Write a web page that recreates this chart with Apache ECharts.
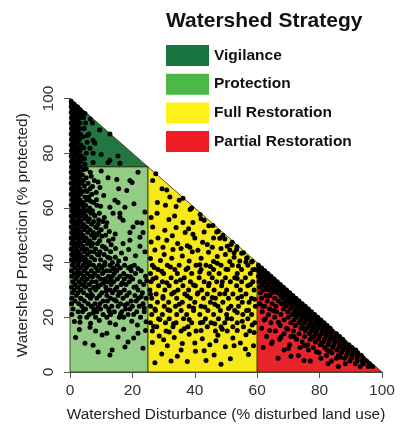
<!DOCTYPE html>
<html><head><meta charset="utf-8">
<script src="https://cdn.jsdelivr.net/npm/echarts@6/dist/echarts.min.js"></script>
<style>html,body{margin:0;padding:0;background:#fff}#c{width:400px;height:428px}</style>
</head><body><div id="c"></div>
<script>
// ---- Category names & region colours ----
const strategies = ['Vigilance','Protection','Full Restoration','Partial Restoration'];
const xTicks = [0,20,40,60,80,100];
const yTicks = [0,20,40,60,80,100];

// Region boundaries (data units)
const vigilancePoly = [[0,75],[0,100],[25,75]];
const protectionPoly = [[0,0],[0,75],[25,75],[25,0]];
const fullPoly = [[25,0],[25,75],[60,40],[60,0]];
const partialPoly = [[60,0],[60,40],[100,0]];

// Watersheds: rows of [protection y, [disturbance x values]]
const vigilanceRows = [
 [99,[0.4]],[98,[0.5,1.3]],[97,[0.4,1.5,2.4]],[96,[0.8,2.0,3.2]],[95,[0.4,1.6,2.8,3.9]],
 [94,[0.9,2.2,3.4]],[93,[0.5,1.7,3.0,4.3]],[92,[1.1,2.5]],[91,[0.4,1.8,3.2,5.0]],[90,[0.9,2.4]],
 [89,[0.5,1.6,3.1,4.5]],[88,[1.0,2.3]],[87,[0.4,1.7,3.3]],[86,[0.9,2.6,4.2]],[85,[0.5,1.8,3.0]],
 [84,[1.1,2.4,5.5]],[83,[0.4,1.7,3.5]],[82,[0.9,2.6,4.4]],[81,[0.5,1.8,3.2]],[80,[1.2,2.6,5.2]],
 [79,[0.4,1.9,3.6]],[78,[1.0,2.8,4.6]],[77,[0.5,1.9,3.4]],[76,[1.2,2.7,4.8]]
];
const vigilanceScatter = [[4.8,94.5],[7.2,91],[4.5,89],[6,87],[12.8,87],[7.4,84.7],[8,83.6],[6.4,81.8],[7.4,80],[12.8,77.4],[12.2,76.6],[16,76.3],[7.4,76.6],[15.4,79],[9.5,88.5],[5.6,86.5],[10,79.5],[6.5,92.5]];

const protectionRows = [
 [75,[0.5,1.9,3.3]],[74,[1.1,2.6,4.4]],[73,[0.4,1.8,3.2,6.5]],[72,[1.0,2.5,4.0]],[71,[0.5,1.7,3.1,5.2]],
 [70,[1.2,2.6,4.3,7.8]],[69,[0.4,1.9,3.5,5.8]],[68,[1.0,2.7,4.6]],[67,[0.5,1.8,3.2,6.4]],[66,[1.1,2.6,4.1,5.5]],
 [65,[0.4,1.9,3.4,7.0]],[64,[1.0,2.5,4.8,6.0]],[63,[0.6,1.8,3.2,5.4]],[62,[1.2,2.7,4.2,7.5]],[61,[0.4,1.9,3.6,5.0,8.6]],
 [60,[1.0,2.5,4.4,6.3]],[59,[0.6,1.8,3.2,5.6,7.2]],[58,[1.2,2.7,4.1,6.7,9.4]],[57,[0.4,2.0,3.5,5.1,8.0]],[56,[1.0,2.8,4.6,6.2]],
 [55,[0.6,1.9,3.4,5.8,7.6,10.5]],[54,[1.3,2.6,4.3,6.9,9.0]],[53,[0.4,2.0,3.7,5.3,8.2]],[52,[1.1,2.7,4.6,6.4,10.0]],
 [51,[0.6,1.8,3.4,5.7,7.5,9.2]],[50,[1.3,2.6,4.2,6.9,8.6,11.4]],[49,[0.4,2.0,3.6,5.2,7.8]],[48,[1.0,2.8,4.6,6.3,9.5,12.4]],
 [47,[0.6,1.9,3.4,5.6,7.2,8.8]],[46,[1.3,2.6,4.2,6.8,10.4]],[45,[0.4,2.0,3.8,5.3,8.2,11.6]],[44,[1.1,2.7,4.6,6.4,7.6,9.6,13.0]],
 [43,[0.6,1.9,3.3,5.6,8.8,10.9]],[42,[1.4,2.8,4.4,6.9,12.1,14.5]],[41,[0.5,2.1,3.7,5.2,7.9,9.8]],[40,[1.1,2.7,4.8,6.3,11.2,13.6]],
 [39,[0.8,2.5,4.2,6.0,7.5,9.4,11.0,12.8,15.2,17.5,20.6]],[38,[1.6,3.4,5.2,8.3,10.2,13.9,16.1,18.8]],
 [37,[0.5,2.6,4.6,6.8,9.0,11.7,12.9,15.0,19.6,22.8]],[36,[1.4,3.5,5.6,7.8,10.4,14.2,17.2,21.0]],
 [35,[0.6,2.4,4.4,6.5,8.9,12.3,13.6,16.0,18.4,24.2]],[34,[1.8,3.8,5.5,9.8,11.2,15.2,17.4,20.1]],
 [33,[0.9,2.9,4.8,7.0,8.4,12.0,14.0,19.0,22.4]],[32,[1.6,3.6,6.2,10.0,13.2,16.4,18.0,23.6]],
 [31,[0.5,2.4,5.0,7.6,9.0,11.5,15.0,20.5]],[30,[1.3,3.5,6.4,8.2,12.8,14.4,17.4,21.8]],
 [29,[0.8,2.6,4.4,10.2,13.6,16.2,19.0,23.2]],[28,[2.0,5.6,7.2,9.5,11.8,15.4,18.2,20.8]],
 [27,[0.6,3.4,6.6,8.6,13.0,17.0,22.0,24.4]],[26,[1.6,4.6,10.6,12.0,14.8,19.6,21.2]],
 [25,[0.5,2.8,5.8,8.0,9.6,16.2,18.4,23.4]],[24,[3.8,6.8,11.4,13.4,15.4,20.0,22.2]],
 [23,[1.0,5.0,7.6,9.8,12.4,17.8,19.2]],[22,[2.6,4.0,8.6,14.2,16.6,21.4,23.8]],
 [21,[0.6,6.2,10.6,13.0,18.6,20.4]],[20,[3.2,5.4,8.2,11.8,15.8,17.2,22.6]]
];
const protectionScatter = [[12.2,71],[15,70.4],[21.8,73],[19.2,70],[9.6,67.5],[14.4,62.8],[12.8,60.2],[16,58],[17,55.5],[20.2,53],[23.4,51],[22.4,49.3],[19.2,48.2],[23,54.5],[15.4,62],[17.6,60.2],[21.5,54.7],[19.2,51],[22.4,46],[17,47],[16,56.6],[13.8,58],[18.2,66.4],[19.9,69.3],[10.8,64.5],[11.5,53.2],[14.5,50.5],[13.2,46.5],[16.5,43.5],[18.8,44.8],[21,42.5],[24,44],[10,73.5],[8.5,63],[11,56.5],[9,69.5],[20.5,61.5],[24,58.5],[15.6,67],
 [1.4,18.5],[3.2,18.2],[6.6,17.8],[9.4,18.8],[12.8,18],[14.6,17.4],[19.8,18.6],[21.6,17.2],[24.4,18.4],[6.4,16.4],[10.3,13.5],[11.8,14.2],[15.4,12.8],[17.2,15.6],[21.8,14.2],[8.2,15],[3,15.5],[18.6,11],[4.8,10.5],[7.4,9.8],[9,7.3],[13.5,8],[12.8,6.2],[17.6,9.1],[23.4,8.7],[20.4,12.4],[1.8,12.6],[24.2,15.2],
 [5.2,74.2],[6.8,71.6],[3.8,69.6],[7.2,67.8],[5.0,66.4],[8.4,65.6],[6.6,62.4],[9.8,60.6],[4.6,58.6],[7.8,57.4],[9.2,55.6],[11.8,54.6],[8.6,52.8],[12.6,51.4],[10.2,49.6],[13.8,48.6],[7.0,46.4],[11.0,45.6],[14.6,45.2],[9.2,42.8],[12.8,41.6],[15.6,40.6],[17.8,41.4],[19.6,38.6],[14.6,37.2],[10.6,36.4],[7.2,34.8],[13.0,33.6],[16.8,32.6],[21.2,31.2],[11.6,29.6],[6.8,28.4],[14.2,26.4],[3.6,26.8],[17.6,24.4],[9.0,23.6],[22.8,27.6],[19.4,34.8],[2.2,36.2],[4.4,31.6],[8.8,31.4],[15.8,29.2],[24.6,33.4],[21.8,37.8],[7.4,21.6],[16.2,21.2],[12.6,22.2],[4.4,22.8],[23.8,23.4],[10.8,32.6]];

const fullRows = [
 [39,[26.4,31.2,35.0,40.4,43.6,48.4,52.0,57.0]],[37.5,[28.2,33.6,37.2,42.0,46.0,50.6,55.0,59.2]],
 [36,[25.8,30.0,34.4,39.0,44.6,47.8,53.6,57.8]],[34.5,[27.6,32.4,36.6,41.4,45.6,49.8,52.8,56.2]],
 [33,[26.0,29.6,34.0,38.6,43.0,47.0,51.4,55.0,58.6]],[31.5,[28.4,31.8,36.2,40.2,44.4,48.6,53.4,57.0]],
 [30,[25.6,30.4,34.6,38.0,42.2,46.2,50.2,54.6,59.0]],[28.5,[27.6,32.6,36.8,40.8,44.0,48.0,52.2,56.4]],
 [27,[26.2,29.8,34.2,38.6,42.8,46.6,50.8,53.8,58.2]],[25.5,[28.0,31.6,36.0,40.0,45.0,49.0,55.2,57.4]],
 [24,[25.8,30.2,33.8,38.2,42.0,47.4,51.6,54.0,59.4]],[22.5,[27.4,32.0,35.6,39.6,44.2,48.2,52.8,56.6]],
 [21,[26.2,29.6,34.2,37.4,41.6,46.0,50.2,55.4,58.2]],[19.5,[28.4,31.8,36.4,43.4,47.6,51.8,57.0]],
 [18,[25.8,30.6,34.0,39.0,41.8,45.2,49.6,53.6,59.2]],[16.5,[27.8,33.0,37.8,44.0,48.4,52.2,55.6]],
 [15,[26.4,30.8,35.6,40.4,46.6,50.4,57.6]]
];
const fullScatter = [[32,64],[27.9,58],[31.7,55.8],[36.2,54.7],[39.4,54.7],[30.4,51.8],[36.9,51],[36.2,63.5],[39,60],[41.7,57.6],[45.8,53.6],[26.5,70],[29.5,67],[28,62],[34,60.5],[43,55.5],[26.5,53],[47.5,51.5],[33.5,57],[38,52.4],[27.5,72.5],[30.6,61],
 [40,49],[28.2,49],[48,48.9],[49,50],[52,47.4],[26,47.5],[31,48.2],[34.5,47],[37.6,46.2],[42.5,47.4],[45.6,45.6],[50.4,46],[53.5,45.8],[55.6,43.6],[27.2,44.6],[30.2,43],[33,44.8],[36,42.4],[39.2,44],[42,41.6],[44.4,43.8],[47.2,42.2],[49.8,43],[52.6,42],[56.8,41.8],[58.4,40.5],[25.8,41.5],[29,40.8],[32.6,41.6],[38.2,40.6],[46,40.4],[54.4,40.6],[35.6,45.2],[41,44.5],[51.2,44.6],
 [44.5,53.5],[47,51.2],[49.6,48.6],[51.6,46.6],[53.4,44.8],[55,43.4],[56.6,41.6],[58.2,40.2],[42,56],[38.5,59.4],[35,62.8],[31,66.5],
 [28.6,13.2],[33.4,12.6],[38.2,13.8],[42.4,12.2],[47.4,13.4],[52.2,12.4],[56.4,13.6],[26.4,10.8],[31.2,9.6],[36,10.4],[44.8,10],[49.8,9.2],[54.6,10.6],[58.8,9.6],[29.4,6.6],[34.4,5.8],[40.2,7.6],[46.2,6.2],[51.4,4.8],[57.2,6.4],[37.6,3.8],[27.2,3.4],[43.6,4.2],[48.4,2.8],
 [27,38.2],[29.4,36.8],[32.2,38.4],[37.8,38],[41.6,36.6],[45,38.6],[50,37.6],[54,38.8],[58.6,37.4],[26.6,34],[31,32.6],[35.4,33.6],[39.6,31.8],[44.6,32.4],[48.8,33],[53.6,34.2],[57.8,32],[25.8,28.4],[29.8,27.6],[33.4,29.2],[37.6,27.8],[41,29],[45.6,27.2],[49.6,28.6],[55,27.6],[59.2,26.6],[27.2,23],[31.4,22.8],[35,24.8],[39.6,23.4],[43.2,23.8],[46.4,24.8],[50.8,23.2],[53.6,21.8],[57.2,22.6],[28.8,19.2],[33.2,17.6],[38.2,19.2],[42.6,18.2],[46.4,17.6],[50.4,19.6],[55.2,18.6],[58.4,17.2],[26.8,16.6],[31.8,14.6],[36.6,15.8],[42,15.2],[48.8,15.6],[53.6,15.2],[59,14.4],[30,11.8],[40,10.6],[46.8,11.4],[52.6,9.6],[56.2,8.4],[35.6,8],[43,7.8],[32.4,4],[38.4,45.6],[44,46.6],[48.4,45.2],[52.6,43.6],[56.4,40.2],[43,51.2],[46,49],[39.4,50.4],[34,52.8],[29.8,45.6],[26,56.5],[32.8,49.8],[41.6,39.2],[47.2,39.8],[51.2,40.4]];

const partialRows = [
 [39,[60.4]],[38,[60.6,61.4]],[37,[60.4,61.8,62.4]],[36,[61.0,62.6,63.4]],[35,[60.4,62.0,63.6,64.4]],
 [34,[61.2,63.0,64.6,65.4]],[33,[60.6,62.2,64.0,65.6,66.4]],[32,[61.6,63.4,65.2,66.6,67.4]],
 [31,[60.8,62.6,64.4,66.0,67.6,68.4]],[30,[62.0,63.8,65.4,67.0,68.6,69.4]],[29,[61.0,64.8,66.4,68.0,69.6,70.4]],
 [28,[62.8,64.0,67.4,69.0,70.6,71.4]],[27,[61.4,65.6,68.2,70.0,71.6,72.4]],[26,[63.2,66.8,69.4,71.0,72.6,73.4]],
 [25,[60.8,64.8,67.8,70.4,72.0,73.6,74.4]],[24,[62.4,66.0,69.2,71.2,73.0,74.6,75.4]],[23,[64.0,68.4,70.6,72.4,74.0,75.6,76.4]],
 [22,[61.6,66.2,69.8,72.0,73.6,75.2,76.6,77.4]],[21,[63.6,67.6,71.2,73.2,74.8,76.4,77.6,78.4]],
 [20,[65.6,70.0,72.6,74.4,76.0,77.6,78.6,79.4]],[19,[62.2,68.6,71.8,74.0,75.6,77.2,78.8,79.6,80.4]],
 [18,[64.4,70.8,73.4,75.2,77.0,78.6,80.0,81.4]],[17,[67.4,72.2,74.6,76.6,78.2,79.8,81.2,82.4]],
 [16,[61.4,69.4,74.0,76.0,77.8,79.4,81.0,82.4,83.4]],[15,[65.8,71.6,75.4,77.4,79.0,80.8,82.4,84.0]],
 [14,[68.6,73.4,76.8,78.8,80.6,82.2,83.6,85.4]],[13,[63.0,70.8,75.2,78.2,80.0,82.0,83.6,85.0,86.4]],
 [12,[67.2,72.6,77.0,79.6,81.6,83.4,85.0,86.6,87.4]],[11,[64.8,74.4,78.6,81.2,83.0,84.8,86.4,88.0]],
 [10,[70.4,76.2,80.2,82.8,84.6,86.4,88.0,89.4]],[9,[61.9,73.7,78.0,81.6,84.2,86.2,87.8,89.4,90.4]],
 [8,[68.6,76.4,82.4,85.6,87.6,89.2,90.8,91.6]],[7,[79.8,84.0,87.0,89.0,90.6,92.2]],
 [6,[73.2,82.2,86.0,88.6,90.4,92.0,93.4]],[5,[66.7,80.4,85.4,88.0,90.2,92.0,94.0]],
 [4,[77.0,83.8,89.7,92.0,93.6,95.0]],[3,[82.7,88.2,91.4,94.0,96.0]],[2,[86.0,93.0,95.6,97.0]]
];
const partialScatter = [[62.4,30.2],[63.6,27.8],[61.8,24],[65.2,22.4],[62.6,19.4],[66.8,18.2],[64,15.2],[69.8,15.6],[67.6,12.8],[71.8,13],[70,8.6],[75.2,9.6],[72,20.8],[68.8,25.2],[66,29.6],[64.4,33.6],[74.4,16.2],[77.6,12.6],[80.6,10.4],[83,7.6],[86.6,5.4],[79,7.4],[75,4.2],[64.6,10.4],[70.8,5.8]];

function expand(rows){ const out=[]; rows.forEach(r=>r[1].forEach(x=>out.push([x,r[0]]))); return out; }
const watersheds = [].concat(expand(vigilanceRows), vigilanceScatter, expand(protectionRows), protectionScatter,
  expand(fullRows), fullScatter, expand(partialRows), partialScatter);

const legendColors = ['#1a7440','#4cb848','#fff01a','#ee1c24'];
const fillColors = ['#22763f','#93cc85','#f7e81a','#e8232a'];
const polys = [vigilancePoly, protectionPoly, fullPoly, partialPoly];

const FONT = 'Liberation Sans, Arial, Helvetica, sans-serif';
const chart = echarts.init(document.getElementById('c'), null, {renderer:'canvas'});

const regionSeries = strategies.map((name,i)=>({
  name, type:'custom', z:1, silent:true, clip:false,
  itemStyle:{color: legendColors[i]},
  data:[[0,0]],
  renderItem:(params, api)=>({
    type:'polygon',
    shape:{points: polys[i].map(p=>api.coord(p))},
    style:{fill: fillColors[i], stroke:'rgba(45,55,25,0.85)', lineWidth:1}
  })
}));

chart.setOption({
  animation:false,
  title:{text:'Watershed Strategy', left:161, top:6,
    textStyle:{fontFamily:FONT, fontWeight:'bold', fontSize:21, color:'#111'}},
  legend:{orient:'vertical', left:161, top:40, itemWidth:43, itemHeight:21, itemGap:7.7, icon:'rect',
    selectedMode:false, data: strategies,
    textStyle:{fontFamily:FONT, fontWeight:'bold', fontSize:15.5, color:'#111'}},
  grid:{left:70, right:18, top:98.5, bottom:56},
  xAxis:{type:'value', min:0, max:100, interval:20,
    name:'Watershed Disturbance (% disturbed land use)', nameLocation:'middle', nameGap:35,
    nameTextStyle:{fontFamily:FONT, fontSize:15.4, color:'#222'},
    axisLine:{show:true, lineStyle:{color:'#555', width:1}},
    axisTick:{show:true, length:6, lineStyle:{color:'#555'}},
    axisLabel:{fontFamily:FONT, fontSize:15.5, color:'#333', margin:11, formatter:v=>xTicks.includes(v)?String(v):''},
    splitLine:{show:false}},
  yAxis:{type:'value', min:0, max:100, interval:20,
    name:'Watershed Protection (% protected)', nameLocation:'middle', nameGap:40,
    nameTextStyle:{fontFamily:FONT, fontSize:15.4, color:'#222'},
    axisLine:{show:true, lineStyle:{color:'#555', width:1}},
    axisTick:{show:true, length:6, lineStyle:{color:'#555'}},
    axisLabel:{fontFamily:FONT, fontSize:15.5, color:'#333', rotate:90, margin:13, formatter:v=>yTicks.includes(v)?String(v):''},
    splitLine:{show:false}},
  series: regionSeries.concat([{
    name:'Watersheds', type:'scatter', z:5, silent:true, symbol:'circle', symbolSize:5,
    itemStyle:{color:'#000', opacity:1}, data: watersheds, clip:false
  }])
});
</script></body></html>
